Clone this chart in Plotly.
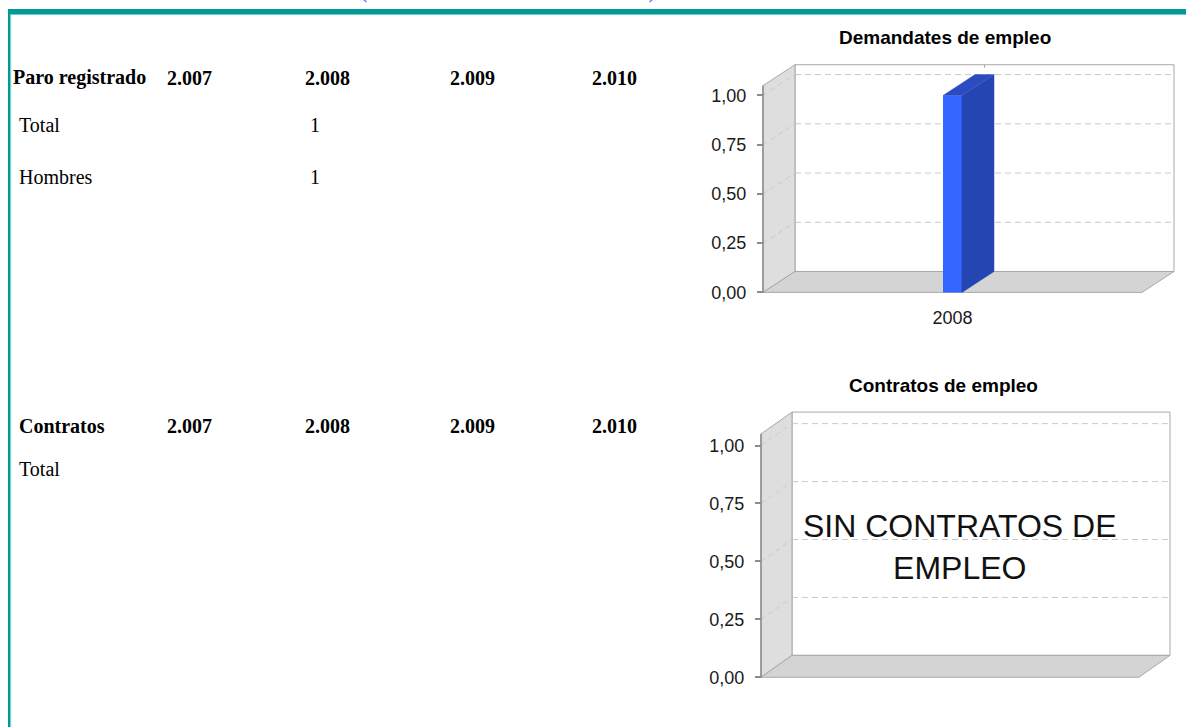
import plotly.graph_objects as go

# ---------------- data ----------------
years = ["2.007", "2.008", "2.009", "2.010"]

paro_header = "Paro registrado"
paro_row_labels = ["Total", "Hombres"]
paro_total = [None, 1, None, None]
paro_hombres = [None, 1, None, None]

contratos_header = "Contratos"
contratos_row_labels = ["Total"]
contratos_total = [None, None, None, None]

demand_title = "Demandates de empleo"
demand_categories = ["2008"]
demand_values = [1]

contract_title = "Contratos de empleo"
contract_categories = []
contract_values = []
contract_empty_msg = "SIN CONTRATOS DE<br>EMPLEO"

y_ticks = [0, 0.25, 0.5, 0.75, 1.0]

# ---------------- layout helpers ----------------
W, H = 1186, 727


def px(x):
    return x / W


def py(y):
    return 1 - y / H


SANS = "Liberation Sans, Arial, sans-serif"
SERIF = "Times New Roman, Liberation Serif, serif"
TEAL = "#009a96"
TEAL_LIGHT = "#6ccbc6"

fig = go.Figure()
shapes = []
annotations = []

# ---------------- outer frame ----------------
shapes += [
    dict(type="rect", xref="paper", yref="paper", x0=px(8), x1=1.01, y0=py(14), y1=py(9),
         fillcolor=TEAL, line=dict(width=0), layer="above"),
    dict(type="rect", xref="paper", yref="paper", x0=px(10), x1=1.01, y0=py(15.2), y1=py(14),
         fillcolor=TEAL_LIGHT, line=dict(width=0), layer="above"),
    dict(type="rect", xref="paper", yref="paper", x0=px(8), x1=px(10.2), y0=-0.01, y1=py(9),
         fillcolor=TEAL, line=dict(width=0), layer="above"),
    dict(type="rect", xref="paper", yref="paper", x0=px(10.2), x1=px(11.2), y0=-0.01, y1=py(14),
         fillcolor=TEAL_LIGHT, line=dict(width=0), layer="above"),
]

# tiny remnants of a cut-off heading above the frame (bottoms of its brackets)
for (xa, xb) in ((363.5, 366.5), (652.5, 649.5)):
    shapes.append(dict(type="line", xref="paper", yref="paper",
                       x0=px(xa), x1=px(xb), y0=py(-0.5), y1=py(2),
                       line=dict(color="#6a86ff", width=1.5), layer="above"))

# ---------------- tables ----------------
year_x = [165, 303, 448, 590]
value_x_off = 5


def add_table(header, header_x, header_y, row_labels, rows, row_ys):
    annotations.append(dict(text="<b>%s</b>" % header, x=px(header_x), y=py(header_y),
                            xref="paper", yref="paper", xanchor="left", yanchor="middle",
                            showarrow=False, font=dict(family=SERIF, size=20, color="#000")))
    for yr, xx in zip(years, year_x):
        annotations.append(dict(text="<b>%s</b>" % yr, x=px(xx), y=py(header_y),
                                xref="paper", yref="paper", xanchor="left", yanchor="middle",
                                showarrow=False, font=dict(family=SERIF, size=20, color="#000")))
    for lab, vals, ry in zip(row_labels, rows, row_ys):
        annotations.append(dict(text=lab, x=px(17), y=py(ry),
                                xref="paper", yref="paper", xanchor="left", yanchor="middle",
                                showarrow=False, font=dict(family=SERIF, size=20, color="#000")))
        for v, xx in zip(vals, year_x):
            if v is not None:
                annotations.append(dict(text=str(v), x=px(xx + value_x_off), y=py(ry),
                                        xref="paper", yref="paper", xanchor="left",
                                        yanchor="middle", showarrow=False,
                                        font=dict(family=SERIF, size=20, color="#000")))


add_table(paro_header, 11, 78, paro_row_labels, [paro_total, paro_hombres], [126, 178])
add_table(contratos_header, 17, 428, contratos_row_labels, [contratos_total], [472])

# ---------------- pseudo-3D bar charts ----------------
charts = [
    dict(title=demand_title, cats=demand_categories, vals=demand_values, empty=None,
         left=763, right=1142, base=294, one=96, ddx=32, ddy=21,
         title_x=945, title_y=38, ax=""),
    dict(title=contract_title, cats=contract_categories, vals=contract_values,
         empty=contract_empty_msg,
         left=761, right=1139, base=681, one=448, ddx=31, ddy=22,
         title_x=943, title_y=388, ax="2"),
]

YMAX = 1.05
PAD = 6
BAR_PX = 19
WALL_LINE = "#a8a8a8"
GRID = "#c9c9c9"

for ch in charts:
    ax = ch["ax"]
    ppx = ch["right"] - ch["left"]
    ppy = ch["base"] - ch["one"]
    DX = ch["ddx"] / ppx
    DY = ch["ddy"] / ppy
    xr, yr = "x" + ax, "y" + ax
    top_px = ch["base"] - YMAX * ppy - ch["ddy"] - PAD

    fig.update_layout(**{
        "xaxis" + ax: dict(
            domain=[px(ch["left"] - PAD), px(ch["right"] + ch["ddx"] + PAD)],
            range=[-0.5 - PAD / ppx, 0.5 + DX + PAD / ppx],
            anchor="free", position=py(ch["base"]),
            tickvals=list(range(len(ch["cats"]))), ticktext=ch["cats"],
            ticks="", showgrid=False, zeroline=False, showline=False,
            ticklabelstandoff=13,
            tickfont=dict(family=SANS, size=18, color="#1a1a1a"), fixedrange=True),
        "yaxis" + ax: dict(
            domain=[py(ch["base"] + PAD), py(top_px)],
            range=[-PAD / ppy, YMAX + DY + PAD / ppy],
            anchor="free", position=px(ch["left"]),
            tickvals=y_ticks, tickformat=".2f",
            ticks="outside", ticklen=6, tickwidth=2, tickcolor="#8c8c8c",
            showgrid=False, zeroline=False, showline=False,
            ticklabelstandoff=7,
            tickfont=dict(family=SANS, size=18, color="#1a1a1a"), fixedrange=True),
    })

    L, R = -0.5, 0.5
    # back wall
    shapes.append(dict(type="rect", xref=xr, yref=yr, x0=L + DX, x1=R + DX, y0=DY, y1=YMAX + DY,
                       fillcolor="white", line=dict(color=WALL_LINE, width=1), layer="below"))
    # left wall
    shapes.append(dict(type="path", xref=xr, yref=yr,
                       path="M %f,%f L %f,%f L %f,%f L %f,%f Z" % (L, 0, L + DX, DY, L + DX, YMAX + DY, L, YMAX),
                       fillcolor="#dedede", line=dict(color=WALL_LINE, width=1), layer="below"))
    # floor
    shapes.append(dict(type="path", xref=xr, yref=yr,
                       path="M %f,%f L %f,%f L %f,%f L %f,%f Z" % (L, 0, L + DX, DY, R + DX, DY, R, 0),
                       fillcolor="#d4d4d4", line=dict(color=WALL_LINE, width=1), layer="below"))
    # dashed grid lines on back and side walls
    for v in y_ticks:
        if v <= 0:
            continue
        shapes.append(dict(type="line", xref=xr, yref=yr, x0=L + DX, x1=R + DX, y0=v + DY, y1=v + DY,
                           line=dict(color=GRID, width=1, dash="6px,4px"), layer="below"))
        shapes.append(dict(type="line", xref=xr, yref=yr, x0=L, x1=L + DX, y0=v, y1=v + DY,
                           line=dict(color=GRID, width=1, dash="5px,4px"), layer="below"))
    # front vertical axis line
    shapes.append(dict(type="line", xref=xr, yref=yr, x0=L, x1=L, y0=0, y1=YMAX,
                       line=dict(color="#8c8c8c", width=1.5), layer="below"))
    # small category tick on the back top edge
    for i in range(len(ch["cats"])):
        shapes.append(dict(type="line", xref=xr, yref=yr, x0=i + DX, x1=i + DX,
                           y0=YMAX + DY, y1=YMAX + DY - 3 / ppy,
                           line=dict(color=WALL_LINE, width=1), layer="below"))

    bw = BAR_PX / ppx
    xs = list(range(len(ch["cats"])))
    fig.add_trace(go.Bar(x=xs, y=ch["vals"], width=bw, xaxis=xr, yaxis=yr,
                         marker=dict(color="#3366ff", line=dict(width=0)),
                         showlegend=False, hoverinfo="skip"))
    for c, v in zip(xs, ch["vals"]):
        # right side face
        sx = [c + bw / 2, c + bw / 2 + DX, c + bw / 2 + DX, c + bw / 2, c + bw / 2]
        sy = [0, DY, v + DY, v, 0]
        fig.add_trace(go.Scatter(x=sx, y=sy, xaxis=xr, yaxis=yr, mode="lines", fill="toself",
                                 fillcolor="#2446b2", line=dict(color="#2446b2", width=0.5),
                                 showlegend=False, hoverinfo="skip"))
        # top face
        tx = [c - bw / 2, c - bw / 2 + DX, c + bw / 2 + DX, c + bw / 2, c - bw / 2]
        ty = [v, v + DY, v + DY, v, v]
        fig.add_trace(go.Scatter(x=tx, y=ty, xaxis=xr, yaxis=yr, mode="lines", fill="toself",
                                 fillcolor="#2a4cc0", line=dict(color="#3a5ad0", width=0.5),
                                 showlegend=False, hoverinfo="skip"))

    annotations.append(dict(text="<b>%s</b>" % ch["title"], x=px(ch["title_x"]), y=py(ch["title_y"]),
                            xref="paper", yref="paper", xanchor="center", yanchor="middle",
                            showarrow=False, font=dict(family=SANS, size=19, color="#000")))
    if ch["empty"]:
        annotations.append(dict(text=ch["empty"], x=px(960), y=py(550),
                                xref="paper", yref="paper", xanchor="center", yanchor="middle",
                                showarrow=False, font=dict(family=SANS, size=32, color="#111")))

fig.update_layout(
    width=W, height=H,
    margin=dict(l=0, r=0, t=0, b=0),
    paper_bgcolor="white", plot_bgcolor="rgba(0,0,0,0)",
    separators=",.",
    showlegend=False, hovermode=False,
    shapes=shapes, annotations=annotations,
)

fig.write_html("out.html", config={"displayModeBar": False},
               post_script="document.body.style.margin='0';document.body.style.overflow='hidden';")
